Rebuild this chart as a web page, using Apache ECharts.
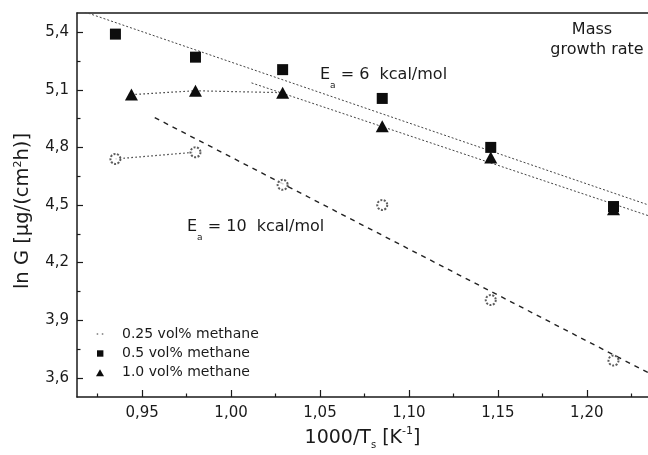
<!DOCTYPE html>
<html>
<head>
<meta charset="utf-8">
<title>Mass growth rate</title>
<script src="https://cdn.jsdelivr.net/npm/echarts@6/dist/echarts.min.js"></script>
<style>
  html, body { margin: 0; padding: 0; background: #fff; }
  #chart { width: 648px; height: 455px; }
</style>
</head>
<body>
<div id="chart"></div>
<script>
// Arrhenius plot of the mass growth rate, 1000/Ts against ln G
const FONT = '"DejaVu Sans", "Liberation Sans", Arial, sans-serif';

// tick values
const xMajorTicks = [0.95, 1.00, 1.05, 1.10, 1.15, 1.20];
const xMinorTicks = [0.925, 0.975, 1.025, 1.075, 1.125, 1.175, 1.225];
const yMajorTicks = [3.6, 3.9, 4.2, 4.5, 4.8, 5.1, 5.4];
const yMinorTicks = [3.75, 4.05, 4.35, 4.65, 4.95, 5.25];

// measurements, one array per methane concentration
const seriesNames = ['0.25 vol% methane', '0.5 vol% methane', '1.0 vol% methane'];
const x025 = [0.935, 0.980, 1.029, 1.085, 1.146, 1.215];
const y025 = [4.74, 4.775, 4.605, 4.50, 4.005, 3.69];
const x05 = [0.935, 0.980, 1.029, 1.085, 1.146, 1.215];
const y05 = [5.39, 5.27, 5.205, 5.055, 4.80, 4.492];
const x10 = [0.944, 0.980, 1.029, 1.085, 1.146, 1.215];
const y10 = [5.075, 5.095, 5.085, 4.91, 4.747, 4.478];

// Arrhenius fit lines (end points)
const fit6SquaresX = [0.9134, 1.2344];
const fit6SquaresY = [5.519, 4.501];
const fit6TrianglesX = [1.0115, 1.2344];
const fit6TrianglesY = [5.136, 4.445];
const fit10CirclesX = [0.9571, 1.2344];
const fit10CirclesY = [4.955, 3.627];

const xRange = [0.9134, 1.2344];
const yRange = [3.5, 5.5];

const pairs = (xs, ys) => xs.map((x, i) => [x, ys[i]]);
const comma = (v, d) => v.toFixed(d).replace('.', ',');

const INK = '#1a1a1a';
const MARK = '#0d0d0d';
// legend glyphs, each drawn inside an 8x8 box
const dotsIcon = 'path://M0,0M8,8M0.7,3.3h1.5v1.5h-1.5zM5.8,3.3h1.5v1.5h-1.5z';
const squareIcon = 'path://M0,0M8,8M1,1h6.4v6.4h-6.4z';
const triangleIcon = 'path://M0,0M8,8M4,0.6L8,7.6L0,7.6z';

const chart = echarts.init(document.getElementById('chart'), null, { renderer: 'canvas' });

const option = {
  backgroundColor: '#ffffff',
  animation: false,
  textStyle: { fontFamily: FONT },
  grid: { left: 77, right: 0, top: 13, bottom: 51, containLabel: false },
  xAxis: [
    {
      type: 'value', position: 'bottom', min: xRange[0], max: xRange[1],
      axisLine: { show: true, onZero: false, lineStyle: { color: INK, width: 1.5 } },
      axisTick: { show: true, inside: true, length: 7, customValues: xMajorTicks, lineStyle: { color: INK, width: 1.2 } },
      axisLabel: { show: true, customValues: xMajorTicks, formatter: v => comma(v, 2), fontSize: 15, color: INK, margin: 9, fontFamily: FONT },
      splitLine: { show: false },
      name: '1000/T{sub|s} [K{sup|-1}]',
      nameLocation: 'middle',
      nameGap: 29,
      nameTextStyle: {
        fontSize: 19, color: INK, fontFamily: FONT, lineHeight: 24,
        rich: {
          sub: { fontSize: 10, lineHeight: 10, verticalAlign: 'bottom', color: INK, fontFamily: FONT },
          sup: { fontSize: 11, lineHeight: 11, verticalAlign: 'top', color: INK, fontFamily: FONT }
        }
      }
    },
    {
      type: 'value', position: 'bottom', min: xRange[0], max: xRange[1],
      axisLine: { show: false, onZero: false },
      axisTick: { show: true, inside: true, length: 3.5, customValues: xMinorTicks, lineStyle: { color: INK, width: 1.2 } },
      axisLabel: { show: false },
      splitLine: { show: false }
    },
    {
      type: 'value', position: 'top', min: xRange[0], max: xRange[1],
      axisLine: { show: true, onZero: false, lineStyle: { color: INK, width: 1.5 } },
      axisTick: { show: false },
      axisLabel: { show: false },
      splitLine: { show: false }
    }
  ],
  yAxis: [
    {
      type: 'value', position: 'left', min: yRange[0], max: yRange[1],
      axisLine: { show: true, onZero: false, lineStyle: { color: INK, width: 1.5 } },
      axisTick: { show: true, inside: true, length: 6, customValues: yMajorTicks, lineStyle: { color: INK, width: 1.2 } },
      axisLabel: { show: true, customValues: yMajorTicks, formatter: v => comma(v, 1), fontSize: 15, color: INK, margin: 8, fontFamily: FONT },
      splitLine: { show: false },
      name: 'ln G [µg/(cm{sup|2}h)]',
      nameLocation: 'middle',
      nameRotate: 90,
      nameGap: 40,
      nameTextStyle: {
        fontSize: 19.5, color: INK, fontFamily: FONT, lineHeight: 22,
        padding: [0, 12, 0, 0],
        rich: {
          sup: { fontSize: 11, lineHeight: 11, verticalAlign: 'top', color: INK, fontFamily: FONT }
        }
      }
    },
    {
      type: 'value', position: 'left', min: yRange[0], max: yRange[1],
      axisLine: { show: false, onZero: false },
      axisTick: { show: true, inside: true, length: 3.5, customValues: yMinorTicks, lineStyle: { color: INK, width: 1.2 } },
      axisLabel: { show: false },
      splitLine: { show: false }
    }
  ],
  legend: {
    orient: 'vertical',
    left: 96,
    top: 327,
    padding: 0,
    itemWidth: 34,
    itemHeight: 8,
    itemGap: 5.3,
    selectedMode: false,
    symbolKeepAspect: true,
    textStyle: { fontSize: 14, lineHeight: 14, color: INK, fontFamily: FONT },
    data: [
      { name: seriesNames[0], icon: dotsIcon, itemStyle: { color: '#555', borderWidth: 0 } },
      { name: seriesNames[1], icon: squareIcon, itemStyle: { color: MARK, borderWidth: 0 } },
      { name: seriesNames[2], icon: triangleIcon, itemStyle: { color: MARK, borderWidth: 0 } }
    ]
  },
  graphic: [
    {
      type: 'text', x: 320, y: 75, silent: true,
      style: {
        text: 'E{sub|a} = 6  kcal/mol',
        font: '16px ' + FONT, fill: INK, align: 'left', verticalAlign: 'middle', lineHeight: 30,
        rich: {
          sub: { fontSize: 9, lineHeight: 10, verticalAlign: 'bottom', fill: INK, fontFamily: FONT }
        }
      }
    },
    {
      type: 'text', x: 187, y: 227, silent: true,
      style: {
        text: 'E{sub|a} = 10  kcal/mol',
        font: '16px ' + FONT, fill: INK, align: 'left', verticalAlign: 'middle', lineHeight: 30,
        rich: {
          sub: { fontSize: 9, lineHeight: 10, verticalAlign: 'bottom', fill: INK, fontFamily: FONT }
        }
      }
    },
    {
      type: 'text', x: 592, y: 30, silent: true,
      style: { text: 'Mass', font: '16px ' + FONT, fill: INK, align: 'center', verticalAlign: 'middle' }
    },
    {
      type: 'text', x: 597, y: 50, silent: true,
      style: { text: 'growth rate', font: '16px ' + FONT, fill: INK, align: 'center', verticalAlign: 'middle' }
    }
  ],
  series: [
    // connecting segments and fit lines
    {
      type: 'line', silent: true, symbol: 'none', z: 1,
      data: pairs(x025.slice(0, 2), y025.slice(0, 2)),
      lineStyle: { color: '#333', width: 1.2, type: [1.5, 2.5] }
    },
    {
      type: 'line', silent: true, symbol: 'none', z: 1,
      data: pairs(x10.slice(0, 3), y10.slice(0, 3)),
      lineStyle: { color: '#333', width: 1.2, type: [1.5, 2.5] }
    },
    {
      type: 'line', silent: true, symbol: 'none', z: 1, clip: true,
      data: pairs(fit6SquaresX, fit6SquaresY),
      lineStyle: { color: '#444', width: 1, type: [2, 2] }
    },
    {
      type: 'line', silent: true, symbol: 'none', z: 1, clip: true,
      data: pairs(fit6TrianglesX, fit6TrianglesY),
      lineStyle: { color: '#444', width: 1, type: [2, 2] }
    },
    {
      type: 'line', silent: true, symbol: 'none', z: 1, clip: true,
      data: pairs(fit10CirclesX, fit10CirclesY),
      lineStyle: { color: '#222', width: 1.4, type: [5, 5] }
    },
    // measured points
    {
      name: seriesNames[0], type: 'scatter', z: 3,
      symbol: 'emptyCircle', symbolSize: 10,
      itemStyle: { color: '#333', borderColor: '#333', borderWidth: 1.1, borderType: [2, 1.5] },
      data: pairs(x025, y025)
    },
    {
      name: seriesNames[1], type: 'scatter', z: 3,
      symbol: 'rect', symbolSize: 11,
      itemStyle: { color: MARK, opacity: 1 },
      data: pairs(x05, y05)
    },
    {
      name: seriesNames[2], type: 'scatter', z: 4,
      symbol: 'triangle', symbolSize: [13, 12],
      itemStyle: { color: MARK, opacity: 1 },
      data: pairs(x10, y10)
    }
  ]
};

chart.setOption(option);
</script>
</body>
</html>
